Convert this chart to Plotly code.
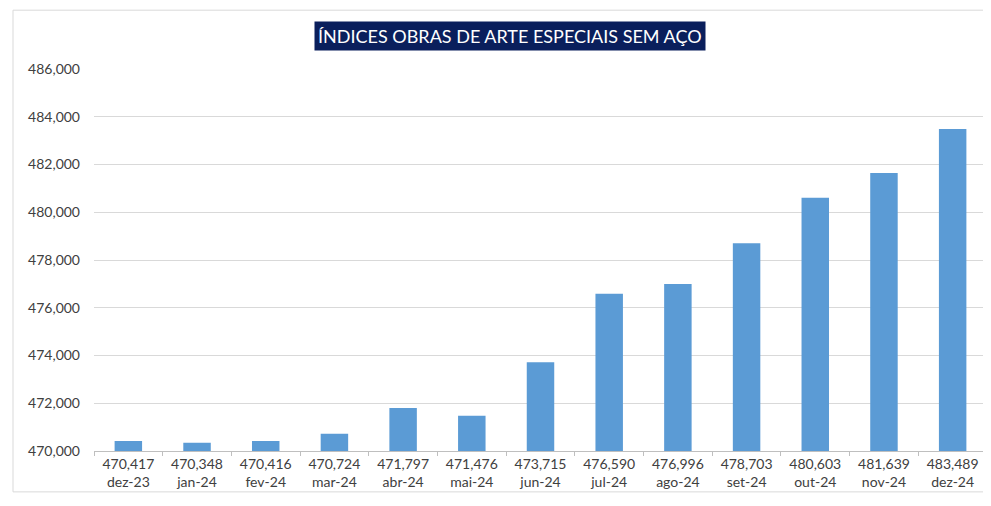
import plotly.graph_objects as go

# monthly index values
months = ['dez-23', 'jan-24', 'fev-24', 'mar-24', 'abr-24', 'mai-24', 'jun-24',
          'jul-24', 'ago-24', 'set-24', 'out-24', 'nov-24', 'dez-24']
values = [470417, 470348, 470416, 470724, 471797, 471476, 473715,
          476590, 476996, 478703, 480603, 481639, 483489]
y_ticks = [470000, 472000, 474000, 476000, 478000, 480000, 482000, 484000, 486000]

# category labels carry the value on the first line, month on the second
labels = [f"{v:,}<br>{m}" for v, m in zip(values, months)]

fig = go.Figure()

fig.add_trace(go.Bar(
    x=labels,
    y=values,
    marker_color='#5B9BD5',
    marker_line_width=0,
    width=0.4,
))

# page has an 8px body margin, so the figure is sized/offset to compensate
fig.update_layout(
    width=983,
    height=498,
    margin=dict(l=86, r=4, t=61, b=55),
    paper_bgcolor='white',
    plot_bgcolor='white',
    showlegend=False,
    font=dict(family='Lato, Open Sans, sans-serif', size=14, color='#404040'),
)

fig.update_xaxes(
    showgrid=False,
    showline=True,
    linecolor='#bfbfbf',
    linewidth=1,
    ticks='outside',
    tickson='boundaries',
    ticklen=4,
    tickcolor='#bfbfbf',
    tickfont=dict(size=14, color='#404040'),
)

fig.update_yaxes(
    range=[470000, 486000],
    tickvals=y_ticks,
    tickformat=',d',
    showgrid=True,
    gridcolor='#d9d9d9',
    gridwidth=1,
    zeroline=False,
    showline=False,
    ticks='',
    ticklabelstandoff=13,
    tickfont=dict(size=14, color='#404040'),
)

# title box
fig.add_annotation(
    text='ÍNDICES OBRAS DE ARTE ESPECIAIS SEM AÇO',
    xref='paper', yref='paper',
    x=0.4664, y=1.086,
    xanchor='center', yanchor='middle',
    showarrow=False,
    font=dict(family='Lato, Open Sans, sans-serif', size=18, color='white'),
    bgcolor='#0a1f5c',
    borderpad=3,
)

# outer chart frame
fig.add_shape(
    type='rect', xref='paper', yref='paper',
    x0=-0.0907, x1=1.003, y0=-0.107, y1=1.154,
    line=dict(color='#d9d9d9', width=1),
    layer='below',
)

fig.write_html("out.html")
